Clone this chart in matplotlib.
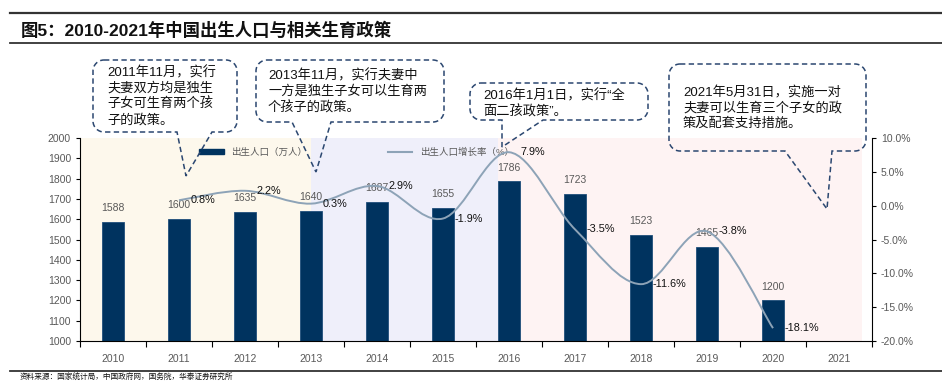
import numpy as np
import matplotlib; matplotlib.use("Agg")
import matplotlib.pyplot as plt
from matplotlib.path import Path
from matplotlib.patches import PathPatch
from matplotlib.transforms import Affine2D
from matplotlib.lines import Line2D

plt.rcParams['font.family'] = ['Liberation Sans', 'Noto Sans CJK SC', 'DejaVu Sans']

# data
years = ["2010", "2011", "2012", "2013", "2014", "2015", "2016", "2017", "2018", "2019", "2020", "2021"]
births = [1588, 1600, 1635, 1640, 1687, 1655, 1786, 1723, 1523, 1465, 1200]   # 万人, 2021 missing
growth_years = ["2011", "2012", "2013", "2014", "2015", "2016", "2017", "2018", "2019", "2020"]
growth = [0.8, 2.2, 0.3, 2.9, -1.9, 7.9, -3.5, -11.6, -3.8, -18.1]          # %
# policy periods (shading spans, in category index units)
periods = [(-0.5, 3.0, "#FDF8EC"), (3.0, 5.84, "#EFEFFA"), (5.84, 11.35, "#FEF3F3")]

notes = [
    "2011年11月，实行\n夫妻双方均是独生\n子女可生育两个孩\n子的政策。",
    "2013年11月，实行夫妻中\n一方是独生子女可以生育两\n个孩子的政策。",
    "2016年1月1日，实行“全\n面二孩政策”。",
    "2021年5月31日，实施一对\n夫妻可以生育三个子女的政\n策及配套支持措施。",
]

W, H = 942, 382
BAR = "#00335F"
LINE = "#8DA3B7"
GREY = "#595959"
NAVY = "#2B4770"

fig = plt.figure(figsize=(W / 100, H / 100), dpi=100)
px = Affine2D().scale(1 / W, -1 / H).translate(0, 1) + fig.transFigure

ax = fig.add_axes([80 / W, 1 - 341 / H, 792 / W, 203 / H])
ax2 = ax.twinx()
ax.set_zorder(1); ax2.set_zorder(2)
ax.patch.set_visible(False)

x = np.arange(len(births))
for a, b, c in periods:
    ax.axvspan(a, b, color=c, lw=0, zorder=0)
ax.bar(x, births, width=0.32, color=BAR, edgecolor="#1F4E7A", lw=0.6, zorder=2)
for xi, v in zip(x, births):
    ax.annotate(str(v), (xi, v), xytext=(0, 10), textcoords="offset points",
                ha="center", va="center", fontsize=7.5, color=GREY, zorder=3)

ax.set_xlim(-0.5, len(years) - 0.5)
ax.set_ylim(1000, 2000)
ax.set_yticks(np.arange(1000, 2001, 100))
ax.set_xticks(np.arange(-0.5, len(years), 1.0))
ax.set_xticklabels([])
ax.set_xticks(np.arange(len(years)), minor=True)
ax.set_xticklabels(years, minor=True)
ax.tick_params(axis="x", which="minor", length=0, pad=9, labelsize=7.5, labelcolor=GREY)
ax.tick_params(axis="x", which="major", length=4, direction="out")
ax.tick_params(axis="y", length=3, direction="out", labelsize=7.5, labelcolor=GREY)
for s in ["top", "right"]:
    ax.spines[s].set_visible(False)
for s in ["top", "left", "bottom"]:
    ax2.spines[s].set_visible(False)

# smooth growth line (Catmull-Rom as cubic Bezier segments)
gx = np.array([years.index(y) for y in growth_years], float)
gy = np.array(growth, float)
P = np.column_stack([gx, gy])
verts = [P[0]]; codes = [Path.MOVETO]
n = len(P)
for i in range(n - 1):
    p0 = P[max(i - 1, 0)]; p1 = P[i]; p2 = P[i + 1]; p3 = P[min(i + 2, n - 1)]
    verts += [p1 + (p2 - p0) / 6, p2 - (p3 - p1) / 6, p2]
    codes += [Path.CURVE4] * 3
ax2.add_patch(PathPatch(Path(verts, codes), fill=False, edgecolor=LINE, lw=1.4, zorder=3))
for xi, v in zip(gx, gy):
    ax2.annotate(f"{v:.1f}%", (xi, v), xytext=(8.5, 0), textcoords="offset points",
                 ha="left", va="center", fontsize=7.8, color="#111111", zorder=4)
ax2.set_ylim(-20, 10)
ax2.set_yticks(np.arange(-20, 10.1, 5))
ax2.set_yticklabels([f"{t:.1f}%" for t in np.arange(-20, 10.1, 5)])
ax2.tick_params(axis="y", length=3, direction="out", labelsize=7.5, labelcolor=GREY)

handles = [plt.Rectangle((0, 0), 1, 1, color=BAR),
           Line2D([], [], color=LINE, lw=1.5)]
ax.legend(handles, ["出生人口（万人）", "出生人口增长率（%）"], loc="center left",
          bbox_to_anchor=(0.14, 0.93), ncol=2, frameon=False, fontsize=6.8,
          labelcolor=GREY, handlelength=2.6, handleheight=0.45, columnspacing=8.5)

# callouts: box (x0, y0, x1, y1) in pixels and tail (left base x, tip (x, y), right base x)
def callout(x0, y0, x1, y1, tl, tip, tr, r=11):
    k = 0.55
    v = [(x0 + r, y0), (x1 - r, y0),
         (x1 - r + r * k, y0), (x1, y0 + r - r * k), (x1, y0 + r),
         (x1, y1 - r),
         (x1, y1 - r + r * k), (x1 - r + r * k, y1), (x1 - r, y1),
         (tr, y1), tip, (tl, y1), (x0 + r, y1),
         (x0 + r - r * k, y1), (x0, y1 - r + r * k), (x0, y1 - r),
         (x0, y0 + r),
         (x0, y0 + r - r * k), (x0 + r - r * k, y0), (x0 + r, y0)]
    c = [Path.MOVETO, Path.LINETO,
         Path.CURVE4, Path.CURVE4, Path.CURVE4,
         Path.LINETO,
         Path.CURVE4, Path.CURVE4, Path.CURVE4,
         Path.LINETO, Path.LINETO, Path.LINETO, Path.LINETO,
         Path.CURVE4, Path.CURVE4, Path.CURVE4,
         Path.LINETO,
         Path.CURVE4, Path.CURVE4, Path.CURVE4]
    fig.add_artist(PathPatch(Path(v, c), transform=px, fill=False, edgecolor=NAVY,
                             lw=1.1, ls=(0, (3.5, 2.2)), zorder=5))

boxes = [
    (93, 60, 237, 132, 177, (186, 176), 212, (107, 66)),
    (256, 60, 444, 122, 292, (316, 172), 331, (268, 69)),
    (470, 83, 648, 120, 502, (502, 147), 543, (483, 89)),
    (669, 64, 866, 151, 785, (827, 209), 832, (683, 86)),
]
for (x0, y0, x1, y1, tl, tip, tr, tpos), txt in zip(boxes, notes):
    callout(x0, y0, x1, y1, tl, tip, tr)
    fig.text(tpos[0], tpos[1], txt, transform=px, ha="left", va="top",
             fontsize=9.5, linespacing=1.3, color="#111111")

# title and rules
fig.add_artist(Line2D([10, W], [13, 13], transform=px, color="#333333", lw=1.6))
fig.add_artist(Line2D([10, W], [43, 43], transform=px, color="#333333", lw=1.3))
fig.add_artist(Line2D([10, W], [371, 371], transform=px, color="#333333", lw=1.3))
fig.text(21, 30, "图5：2010-2021年中国出生人口与相关生育政策", transform=px,
         ha="left", va="center", fontsize=12.5, fontweight="bold", color="#111111")
fig.text(20, 374, "资料来源：国家统计局，中国政府网，国务院，华泰证券研究所", transform=px,
         ha="left", va="top", fontsize=5.5, color="#111111")

fig.savefig("out.png", dpi=100)
